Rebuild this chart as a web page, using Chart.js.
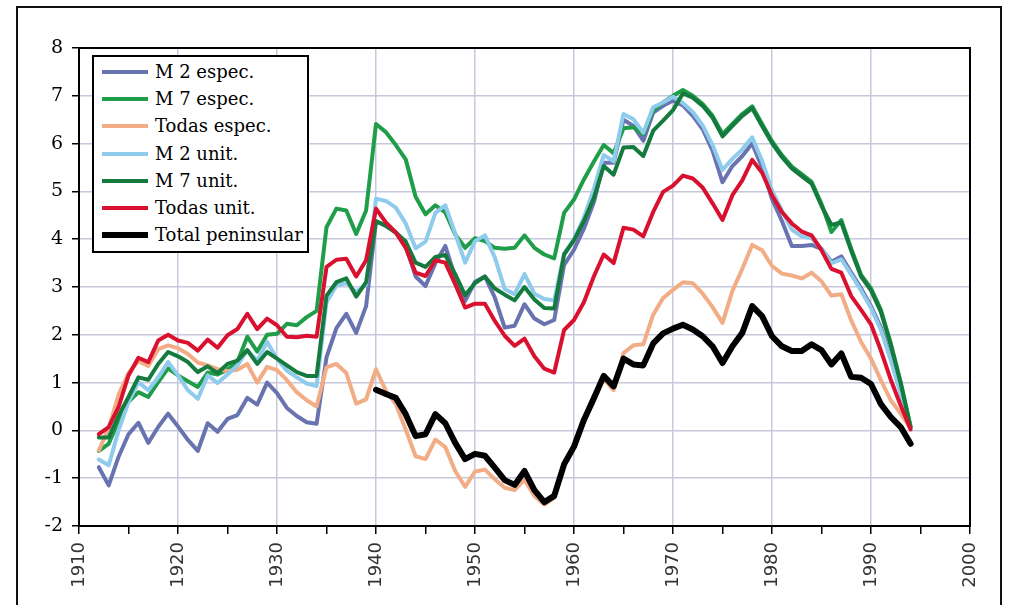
<!DOCTYPE html>
<html>
<head>
<meta charset="utf-8">
<title>Series 1912–1994</title>
<script src="https://cdn.jsdelivr.net/npm/chart.js@4.4.1/dist/chart.umd.min.js"></script>
<style>
  html, body { margin: 0; padding: 0; background: #fff; }
  #wrap { position: relative; width: 1010px; height: 605px; overflow: hidden; }
  #frame { position: absolute; left: 16px; top: 6px; width: 986px; height: 640px; border: 2px solid #111; box-sizing: border-box; }
  canvas { position: absolute; left: 0; top: 0; }
  #legend { position: absolute; left: 92px; top: 55px; width: 217px; height: 198px; border: 2px solid #000;
            background: #fff; box-sizing: border-box; padding-top: 1px; font-family: 'DejaVu Serif', serif; font-size: 18px; color: #000; }
  .row { height: 27.3px; display: flex; align-items: center; white-space: nowrap; }
  .swatch { margin-left: 8px; width: 46px; }
  .label { margin-left: 7px; line-height: 1; }
</style>
</head>
<body>
<div id="wrap">
  <div id="frame"></div>
  <canvas id="c" width="1010" height="605"></canvas>
  <div id="legend"></div>
</div>
<script>
// Years covered by the six long series
const years = [
  1912, 1913, 1914, 1915, 1916, 1917, 1918, 1919, 1920, 1921,
  1922, 1923, 1924, 1925, 1926, 1927, 1928, 1929, 1930, 1931,
  1932, 1933, 1934, 1935, 1936, 1937, 1938, 1939, 1940, 1941,
  1942, 1943, 1944, 1945, 1946, 1947, 1948, 1949, 1950, 1951,
  1952, 1953, 1954, 1955, 1956, 1957, 1958, 1959, 1960, 1961,
  1962, 1963, 1964, 1965, 1966, 1967, 1968, 1969, 1970, 1971,
  1972, 1973, 1974, 1975, 1976, 1977, 1978, 1979, 1980, 1981,
  1982, 1983, 1984, 1985, 1986, 1987, 1988, 1989, 1990, 1991,
  1992, 1993, 1994
];
// The peninsular total starts in 1940
const peninsularYears = years.slice(years.indexOf(1940));

const seriesNames = ['M 2 espec.', 'M 7 espec.', 'Todas espec.', 'M 2 unit.', 'M 7 unit.', 'Todas unit.', 'Total peninsular'];

const m2Espec = [
  -0.77, -1.15, -0.55, -0.08, 0.16, -0.26, 0.07, 0.35, 0.08, -0.20,
  -0.43, 0.15, -0.03, 0.24, 0.32, 0.68, 0.54, 1.00, 0.78, 0.47,
  0.30, 0.17, 0.14, 1.53, 2.14, 2.44, 2.04, 2.60, 4.37, 4.28,
  4.14, 3.86, 3.22, 3.02, 3.50, 3.86, 3.20, 2.71, 3.11, 3.22,
  2.78, 2.15, 2.19, 2.64, 2.34, 2.22, 2.31, 3.46, 3.78, 4.22,
  4.77, 5.60, 5.60, 6.50, 6.37, 6.06, 6.65, 6.79, 6.90, 6.80,
  6.58, 6.30, 5.85, 5.19, 5.53, 5.74, 6.00, 5.50, 4.84, 4.38,
  3.86, 3.86, 3.88, 3.80, 3.53, 3.64, 3.30, 2.97, 2.60, 2.15,
  1.50, 0.80, 0.07
];
const m7Espec = [
  -0.43, -0.28, 0.20, 0.60, 0.80, 0.70, 1.01, 1.30, 1.15, 1.03,
  0.91, 1.21, 1.17, 1.27, 1.43, 1.96, 1.65, 2.00, 2.02, 2.23,
  2.20, 2.37, 2.50, 4.25, 4.64, 4.60, 4.11, 4.60, 6.41, 6.24,
  5.97, 5.67, 4.89, 4.52, 4.71, 4.56, 4.10, 3.82, 4.02, 3.96,
  3.82, 3.80, 3.82, 4.08, 3.82, 3.68, 3.60, 4.55, 4.83, 5.25,
  5.62, 5.97, 5.80, 6.32, 6.34, 6.20, 6.69, 6.86, 7.00, 7.12,
  7.00, 6.83, 6.58, 6.20, 6.41, 6.62, 6.78, 6.41, 6.05, 5.76,
  5.52, 5.36, 5.20, 4.74, 4.15, 4.40, 3.80, 3.25, 2.97, 2.52,
  1.82, 1.01, 0.08
];
const todasEspec = [
  -0.42, 0.05, 0.75, 1.20, 1.45, 1.35, 1.70, 1.78, 1.72, 1.60,
  1.42, 1.36, 1.28, 1.24, 1.27, 1.39, 1.00, 1.33, 1.26, 1.05,
  0.80, 0.63, 0.50, 1.32, 1.39, 1.20, 0.56, 0.65, 1.28, 0.83,
  0.55, 0.02, -0.54, -0.60, -0.19, -0.35, -0.85, -1.18, -0.86, -0.82,
  -1.02, -1.20, -1.25, -1.03, -1.37, -1.55, -1.41, -0.72, -0.30, 0.17,
  0.62, 1.08, 0.84, 1.62, 1.78, 1.80, 2.42, 2.77, 2.94, 3.10,
  3.08, 2.86, 2.58, 2.25, 2.92, 3.38, 3.88, 3.77, 3.44, 3.28,
  3.24, 3.18, 3.30, 3.12, 2.82, 2.85, 2.30, 1.85, 1.50, 1.05,
  0.63, 0.35, 0.05
];
const m2Unit = [
  -0.61, -0.73, 0.00, 0.59, 1.01, 0.84, 1.11, 1.43, 1.15, 0.84,
  0.66, 1.15, 0.99, 1.17, 1.36, 1.68, 1.46, 1.85, 1.50, 1.25,
  1.11, 0.98, 0.93, 2.68, 3.03, 3.08, 2.90, 3.05, 4.85, 4.80,
  4.66, 4.33, 3.81, 3.95, 4.55, 4.71, 4.12, 3.51, 3.96, 4.08,
  3.62, 2.96, 2.85, 3.27, 2.86, 2.75, 2.72, 3.70, 4.00, 4.45,
  5.05, 5.76, 5.63, 6.62, 6.51, 6.23, 6.76, 6.86, 6.98, 6.85,
  6.66, 6.38, 5.97, 5.45, 5.68, 5.88, 6.13, 5.64, 5.02, 4.60,
  4.20, 4.06, 4.02, 3.80, 3.50, 3.58, 3.26, 2.92, 2.56, 2.10,
  1.47, 0.77, 0.07
];
const m7Unit = [
  -0.15, -0.15, 0.31, 0.70, 1.11, 1.06, 1.39, 1.64, 1.55, 1.43,
  1.22, 1.34, 1.20, 1.39, 1.46, 1.68, 1.39, 1.64, 1.50, 1.36,
  1.22, 1.14, 1.14, 2.82, 3.10, 3.18, 2.80, 3.10, 4.38, 4.28,
  4.14, 3.95, 3.51, 3.42, 3.63, 3.67, 3.27, 2.83, 3.08, 3.22,
  2.97, 2.84, 2.72, 3.00, 2.74, 2.56, 2.55, 3.68, 3.98, 4.38,
  4.86, 5.53, 5.35, 5.92, 5.93, 5.74, 6.27, 6.48, 6.70, 7.05,
  6.96, 6.79, 6.54, 6.15, 6.37, 6.58, 6.74, 6.37, 6.01, 5.72,
  5.48, 5.32, 5.16, 4.70, 4.30, 4.35, 3.76, 3.22, 2.93, 2.48,
  1.78, 0.98, 0.06
];
const todasUnit = [
  -0.08, 0.07, 0.49, 1.15, 1.52, 1.43, 1.88, 2.00, 1.88, 1.83,
  1.67, 1.90, 1.73, 1.99, 2.12, 2.44, 2.12, 2.34, 2.20, 1.96,
  1.95, 1.98, 1.96, 3.42, 3.57, 3.59, 3.22, 3.56, 4.64, 4.35,
  4.14, 3.82, 3.30, 3.23, 3.56, 3.51, 3.06, 2.57, 2.65, 2.65,
  2.29, 1.98, 1.77, 1.92, 1.55, 1.29, 1.21, 2.10, 2.31, 2.68,
  3.22, 3.68, 3.50, 4.24, 4.20, 4.06, 4.57, 4.99, 5.12, 5.33,
  5.27, 5.08, 4.75, 4.40, 4.92, 5.23, 5.66, 5.39, 4.92, 4.57,
  4.33, 4.16, 4.08, 3.77, 3.38, 3.30, 2.81, 2.52, 2.22, 1.67,
  1.06, 0.52, 0.02
];
const totalPeninsular = [
  0.85, 0.76, 0.68, 0.34, -0.12, -0.08, 0.34, 0.15, -0.26, -0.60,
  -0.49, -0.53, -0.78, -1.04, -1.14, -0.85, -1.25, -1.50, -1.37, -0.71,
  -0.34, 0.22, 0.67, 1.14, 0.92, 1.50, 1.38, 1.36, 1.82, 2.03,
  2.13, 2.21, 2.11, 1.97, 1.76, 1.41, 1.76, 2.04, 2.60, 2.39,
  1.97, 1.76, 1.66, 1.66, 1.80, 1.68, 1.38, 1.61, 1.12, 1.10,
  0.97, 0.55, 0.28, 0.07, -0.28
];

// y-axis tick values and x-axis decade labels
const yTicks = [-2, -1, 0, 1, 2, 3, 4, 5, 6, 7, 8];
const xDecades = [1910, 1920, 1930, 1940, 1950, 1960, 1970, 1980, 1990, 2000];

const colors = ['#6873b0', '#1f9d49', '#f2ac86', '#8fcbec', '#157a3d', '#d9112e', '#000000'];
const widths = [4, 4, 4, 4, 4, 4, 6];
const GRID = '#c8c8dc';

const seriesValues = [m2Espec, m7Espec, todasEspec, m2Unit, m7Unit, todasUnit, totalPeninsular];
const seriesYears = [years, years, years, years, years, years, peninsularYears];

const datasets = seriesValues.map((vals, i) => ({
  label: seriesNames[i],
  data: vals.map((v, k) => ({ x: seriesYears[i][k], y: v })),
  borderColor: colors[i],
  borderWidth: widths[i],
  pointRadius: 0,
  tension: 0,
  fill: false,
  borderJoinStyle: 'round',
  borderCapStyle: 'round',
  order: seriesValues.length - 1 - i   // later series drawn on top
}));

// Legend box inside the plot
const legendEl = document.getElementById('legend');
seriesNames.forEach((name, i) => {
  const row = document.createElement('div');
  row.className = 'row';
  const sw = document.createElement('div');
  sw.className = 'swatch';
  sw.style.height = (i === 6 ? 6 : 4) + 'px';
  sw.style.background = colors[i];
  const lb = document.createElement('span');
  lb.className = 'label';
  lb.textContent = name;
  row.appendChild(sw);
  row.appendChild(lb);
  legendEl.appendChild(row);
});

// Closes the plot area with a black border on all four sides
const plotBorder = {
  id: 'plotBorder',
  afterDatasetsDraw(chart) {
    const a = chart.chartArea, c = chart.ctx;
    c.save();
    c.strokeStyle = '#000';
    c.lineWidth = 2;
    c.strokeRect(a.left, a.top, a.right - a.left, a.bottom - a.top);
    c.restore();
  }
};

new Chart(document.getElementById('c'), {
  type: 'line',
  data: { datasets },
  options: {
    responsive: false,
    animation: false,
    devicePixelRatio: 1,
    layout: { padding: { top: 48, right: 40, left: 0, bottom: 0 } },
    plugins: { legend: { display: false }, tooltip: { enabled: false } },
    scales: {
      x: {
        type: 'linear',
        min: xDecades[0],
        max: xDecades[xDecades.length - 1],
        afterFit: s => { s.height = 79; },
        ticks: {
          stepSize: 5,
          autoSkip: false,
          maxRotation: 90,
          minRotation: 90,
          padding: 8,
          color: '#333',
          font: { family: 'DejaVu Sans', size: 18 },
          callback: v => xDecades.includes(v) ? String(v) : ''
        },
        grid: {
          color: c => (c.tick && xDecades.includes(c.tick.value)) ? GRID : 'rgba(0,0,0,0)',
          lineWidth: 1.5,
          tickColor: '#000',
          tickLength: 8
        },
        border: { color: '#000', width: 2 }
      },
      y: {
        min: yTicks[0],
        max: yTicks[yTicks.length - 1],
        afterFit: s => { s.width = 79; },
        afterBuildTicks: s => { s.ticks = yTicks.map(v => ({ value: v })); },
        ticks: {
          padding: 9,
          color: '#000',
          font: { family: 'DejaVu Serif', size: 19 },
          callback: v => String(v)
        },
        grid: { color: GRID, lineWidth: 1.5, tickColor: '#000', tickLength: 7 },
        border: { color: '#000', width: 2 }
      }
    }
  },
  plugins: [plotBorder]
});
</script>
</body>
</html>
